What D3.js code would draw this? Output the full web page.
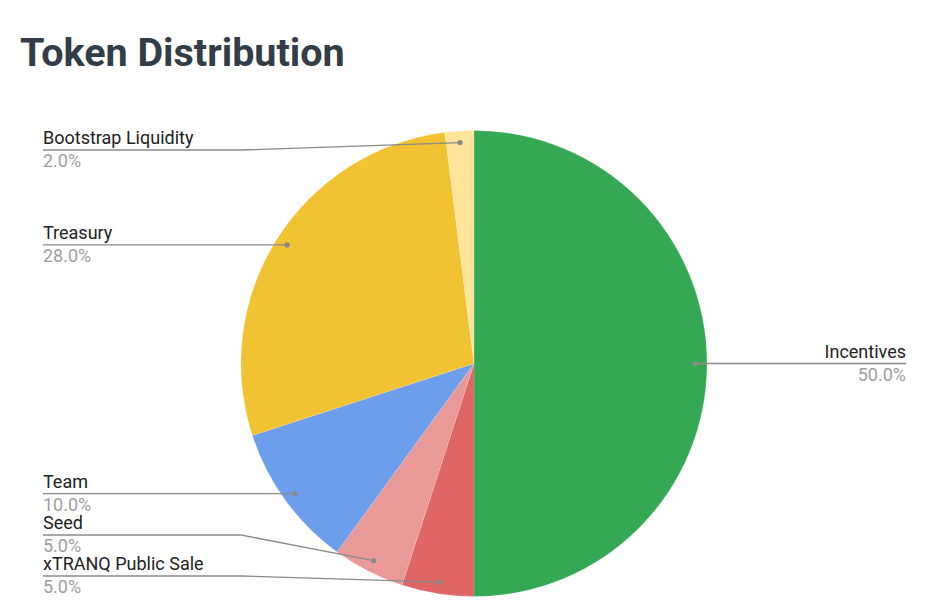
<!DOCTYPE html>
<html>
<head>
<meta charset="utf-8">
<script src="https://cdn.jsdelivr.net/npm/d3@7"></script>
<style>
  body { margin: 0; background: #fff; }
  text { font-family: Roboto, "Noto Sans", sans-serif; }
</style>
</head>
<body>
<div id="chart"></div>
<script>
var names = ["Incentives", "xTRANQ Public Sale", "Seed", "Team", "Treasury", "Bootstrap Liquidity"];
var values = [50, 5, 5, 10, 28, 2];
var colors = ["#34a853", "#e06666", "#ea9999", "#6d9eeb", "#f1c232", "#ffe599"];

var width = 939, height = 611;
var cx = 474, cy = 363.5, radius = 233;

var svg = d3.select("#chart").append("svg")
  .attr("width", width)
  .attr("height", height);

svg.append("rect").attr("width", width).attr("height", height).attr("fill", "#fff");

svg.append("text")
  .attr("x", 20)
  .attr("y", 66)
  .attr("font-size", 39.5)
  .attr("font-weight", "bold")
  .attr("fill", "#333d47")
  .text("Token Distribution");

var data = names.map(function(n, i) {
  return { name: n, value: values[i], color: colors[i] };
});
var total = d3.sum(values);

var pie = d3.pie().sort(null).value(function(d) { return d.value; });
var arcs = pie(data);

var arc = d3.arc().innerRadius(0).outerRadius(radius);
var dotArc = d3.arc().innerRadius(radius * 0.95).outerRadius(radius * 0.95);

var g = svg.append("g").attr("transform", "translate(" + cx + "," + cy + ")");

g.selectAll("path")
  .data(arcs)
  .enter().append("path")
  .attr("d", arc)
  .attr("fill", function(d) { return d.data.color; })
  .attr("stroke", "#fff")
  .attr("stroke-opacity", 0.25)
  .attr("stroke-width", 0.5);

// label positions
var leftX = 43, rightX = 906, elbowLeft = cx - radius, elbowRight = cx + radius;
var minY = 150, maxY = 576, gap = 41;

arcs.forEach(function(d) {
  var c = dotArc.centroid(d);
  d.dot = [cx + c[0], cy + c[1]];
  d.side = c[0] >= 0 ? "right" : "left";
  d.ly = d.dot[1];
});

["left", "right"].forEach(function(side) {
  var list = arcs.filter(function(d) { return d.side === side; })
    .sort(function(a, b) { return a.ly - b.ly; });
  list.forEach(function(d) { d.ly = Math.max(minY, Math.min(maxY, d.ly)); });
  for (var i = list.length - 2; i >= 0; i--) {
    list[i].ly = Math.min(list[i].ly, list[i + 1].ly - gap);
  }
  for (var j = 1; j < list.length; j++) {
    list[j].ly = Math.max(list[j].ly, list[j - 1].ly + gap);
  }
});

var labels = svg.append("g");

arcs.forEach(function(d) {
  var left = d.side === "left";
  var endX = left ? leftX : rightX;
  var elbowX = left ? Math.min(elbowLeft, d.dot[0]) : Math.max(elbowRight, d.dot[0]);
  var pts = [d.dot, [elbowX, d.ly], [endX, d.ly]];
  if (Math.abs(d.ly - d.dot[1]) < 0.5) pts = [d.dot, [endX, d.ly]];

  labels.append("path")
    .attr("d", d3.line()(pts))
    .attr("fill", "none")
    .attr("stroke", "#8a8a8a")
    .attr("stroke-width", 1.3);

  labels.append("circle")
    .attr("cx", d.dot[0])
    .attr("cy", d.dot[1])
    .attr("r", 2.6)
    .attr("fill", "#8a8a8a");

  labels.append("text")
    .attr("x", endX)
    .attr("y", d.ly - 6)
    .attr("text-anchor", left ? "start" : "end")
    .attr("font-size", 18)
    .attr("fill", "#222")
    .text(d.data.name);

  labels.append("text")
    .attr("x", endX)
    .attr("y", d.ly + 17)
    .attr("text-anchor", left ? "start" : "end")
    .attr("font-size", 18)
    .attr("fill", "#9e9e9e")
    .text(d3.format(".1f")(d.data.value / total * 100) + "%");
});
</script>
</body>
</html>
